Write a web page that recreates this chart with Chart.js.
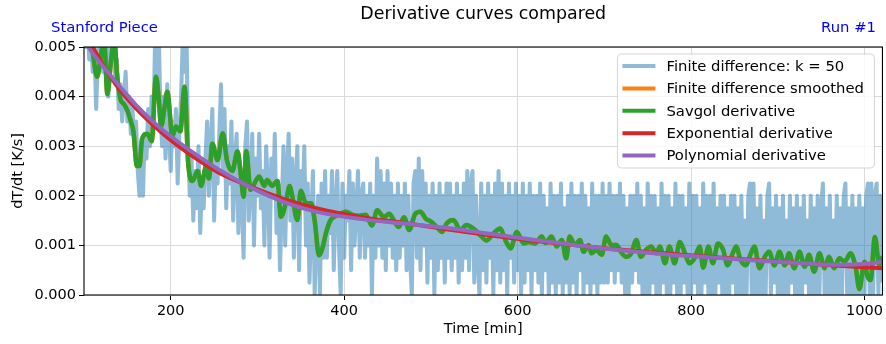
<!DOCTYPE html>
<html>
<head>
<meta charset="utf-8">
<title>Derivative curves compared</title>
<script src="https://cdn.jsdelivr.net/npm/chart.js@4.4.1/dist/chart.umd.min.js"></script>
<style>
  html, body { margin: 0; padding: 0; background: #fff; }
  canvas { display: block; }
</style>
</head>
<body>
<canvas id="derivChart" width="886" height="344"></canvas>
<script>
// Finite difference (k = 50): quantised in steps of 0.25 mK/s, one sample every 2 min from t = 100
const fdStart = 100;
const fdSpacing = 2;
const fdQuantum = 0.00025;
const fdLevels = [
  21, 20, 22, 19, 21, 18, 20, 15, 19, 21, 20, 18, 22, 19, 16, 20, 20, 21, 17, 19, 15, 17, 14, 16, 18,
  14, 16, 13, 15, 12, 14, 10, 8, 12, 8, 13, 11, 15, 12, 16, 13, 21, 17, 22, 15, 12, 16, 11, 17, 13,
  10, 14, 12, 15, 9, 13, 16, 21, 18, 22, 12, 8, 11, 6, 10, 7, 12, 5, 9, 7, 11, 14, 8, 12, 15,
  6, 11, 9, 13, 17, 10, 15, 7, 12, 9, 14, 6, 11, 13, 5, 10, 8, 3, 12, 14, 6, 9, 13, 4, 11,
  8, 13, 7, 10, 4, 12, 9, 3, 11, 8, 13, 5, 9, 2, 7, 12, 4, 10, 13, 6, 11, 3, 9, 12, 2,
  10, 7, 12, 4, 9, 1, 6, 10, 0, 5, 8, 0, 9, 3, 10, 3, 8, 5, 10, 2, 7, 10, 4, 0, 9,
  3, 8, 6, 10, 2, 9, 4, 7, 10, 3, 8, 9, 3, 8, 4, 9, 0, 8, 3, 11, 4, 10, 3, 9, 2,
  10, 4, 9, 3, 8, 2, 9, 3, 8, 4, 9, 2, 8, 3, 0, 9, 10, 3, 11, 2, 10, 4, 9, 1, 8,
  3, 9, 0, 8, 2, 9, 3, 8, 1, 9, 3, 9, 2, 8, 3, 9, 1, 8, 2, 9, 3, 10, 2, 9, 10,
  1, 8, 3, 0, 9, 2, 8, 1, 9, 3, 8, 0, 9, 2, 10, 1, 9, 2, 8, 0, 9, 3, 8, 1, 9,
  2, 8, 0, 9, 1, 8, 2, 9, 0, 8, 2, 8, 1, 9, 0, 8, 2, 7, 0, 9, 1, 8, 0, 8, 1,
  9, 0, 7, 1, 8, 0, 9, 1, 8, 0, 8, 2, 9, 0, 8, 1, 7, 0, 9, 1, 8, 0, 8, 1, 9,
  1, 8, 1, 9, 2, 8, 1, 8, 2, 9, 1, 8, 0, 7, 0, 8, 1, 8, 2, 9, 1, 8, 0, 7, 0,
  9, 0, 8, 1, 8, 0, 7, 0, 9, 1, 8, 0, 8, 0, 7, 1, 9, 0, 8, 0, 8, 1, 7, 0, 9,
  0, 8, 1, 8, 0, 7, 0, 9, 1, 8, 0, 8, 0, 9, 0, 7, 1, 8, 0, 8, 0, 7, 0, 8, 1,
  8, 0, 7, 0, 8, 0, 6, 0, 8, 9, 0, 9, 0, 7, 0, 8, 0, 6, 0, 8, 9, 0, 7, 1, 8,
  0, 7, 0, 8, 0, 6, 0, 8, 1, 7, 0, 8, 0, 7, 0, 8, 1, 6, 0, 8, 0, 7, 0, 8, 0,
  7, 9, 0, 7, 0, 8, 0, 6, 0, 8, 0, 7, 0, 8, 9, 0, 7, 0, 8, 0, 7, 0, 8, 0, 7,
  0, 8, 9, 0, 9, 0, 8, 9, 0, 8, 1
];

// Savgol derivative, [time in min, rate in mK/s]
const savgolSeries = [
  [100, 5.8], [106, 5.3], [110, 4.9], [115, 4.4], [119, 4.75], [123, 5.2], [127, 4.05], [131, 4.7],
  [135, 5.15], [138, 4.45], [142, 3.95], [146, 3.85], [150, 3.72], [154, 3.5], [157, 3.3], [161, 2.6],
  [164, 2.6], [167, 3.15], [173, 3.25], [178, 3.1], [183, 4.4], [186, 4.0], [189, 3.4], [193, 3.8],
  [196, 4.1], [202, 3.2], [206, 3.4], [211, 3.3], [216, 4.2], [220, 2.7], [225, 2.3], [231, 2.5],
  [235, 2.2], [241, 2.6], [244, 2.35], [248, 3.05], [254, 2.72], [260, 3.26], [265, 2.7], [271, 2.5],
  [277, 2.9], [281, 2.4], [284, 1.98], [287, 2.9], [292, 2.12], [298, 2.3], [302, 2.39], [308, 2.2],
  [311, 2.32], [317, 2.2], [323, 2.3], [327, 1.58], [333, 1.88], [337, 2.2], [340, 2.0], [346, 1.51],
  [350, 2.1], [356, 1.85], [362, 1.85], [366, 1.5], [371, 0.8], [375, 0.95], [379, 1.25], [384, 1.5],
  [389, 1.58], [394, 1.62], [402, 1.68], [409, 1.62], [417, 1.6], [425, 1.62], [432, 1.4], [438, 1.71],
  [446, 1.57], [452, 1.64], [457, 1.51], [463, 1.37], [469, 1.57], [475, 1.31], [482, 1.64], [488, 1.68],
  [494, 1.54], [500, 1.48], [507, 1.37], [513, 1.27], [518, 1.44], [526, 1.51], [534, 1.31], [541, 1.41],
  [551, 1.31], [559, 1.17], [564, 1.1], [572, 1.24], [580, 1.34], [586, 1.1], [592, 0.94], [599, 1.27],
  [607, 1.04], [613, 1.07], [620, 1.04], [628, 1.18], [632, 1.05], [639, 1.18], [645, 0.98], [651, 1.11],
  [656, 0.74], [660, 1.18], [666, 1.01], [672, 1.11], [676, 0.87], [682, 1.01], [685, 0.84], [691, 0.91],
  [697, 0.81], [702, 1.18], [708, 1.01], [714, 1.01], [719, 0.87], [725, 0.77], [731, 0.84], [737, 1.11],
  [742, 0.77], [748, 0.91], [754, 0.98], [760, 0.84], [764, 0.98], [770, 0.64], [775, 0.98], [781, 0.64],
  [787, 1.07], [793, 0.84], [798, 0.64], [804, 0.74], [810, 0.98], [814, 0.55], [820, 0.98], [825, 0.64],
  [831, 1.04], [837, 0.91], [842, 0.6], [848, 0.84], [852, 0.98], [857, 0.71], [863, 0.6], [869, 0.84],
  [873, 0.98], [879, 0.54], [885, 0.77], [890, 0.87], [896, 0.6], [902, 0.87], [908, 0.6], [913, 0.84],
  [919, 0.54], [925, 0.87], [931, 0.57], [936, 0.81], [942, 0.47], [948, 0.84], [954, 0.54], [959, 0.77],
  [965, 0.54], [971, 0.74], [977, 0.67], [984, 0.84], [990, 0.54], [994, 0.12], [1000, 0.67], [1003, 0.4],
  [1007, 0.3], [1012, 1.17], [1017, 0.6], [1021, 0.78]
];

// the smoothed finite difference lies underneath the Savgol curve
const fdSmoothedSeries = savgolSeries;

// Exponential fit derivative, [min, mK/s]
const expSeries = [
  [100, 5.3], [110, 5.0], [125, 4.55], [140, 4.17], [160, 3.76], [180, 3.42], [200, 3.12], [225, 2.8],
  [255, 2.47], [290, 2.2], [330, 1.94], [370, 1.74], [420, 1.57], [470, 1.45], [520, 1.32], [570, 1.2],
  [620, 1.09], [670, 1.0], [720, 0.91], [770, 0.84], [820, 0.77], [870, 0.71], [920, 0.65], [970, 0.59],
  [1021, 0.54]
];

// Polynomial fit derivative, [min, mK/s]
const polySeries = [
  [100, 5.15], [105, 5.0], [120, 4.65], [140, 4.23], [160, 3.83], [180, 3.49], [200, 3.2], [225, 2.88],
  [255, 2.53], [290, 2.19], [330, 1.88], [370, 1.67], [420, 1.53], [470, 1.44], [520, 1.35], [570, 1.23],
  [620, 1.11], [670, 1.0], [720, 0.9], [770, 0.82], [820, 0.76], [870, 0.7], [920, 0.65], [960, 0.61],
  [995, 0.62], [1021, 0.67]
];

const xTicks = [200, 400, 600, 800, 1000];
const yTicks = [0, 0.001, 0.002, 0.003, 0.004, 0.005];

const FONT = '"DejaVu Sans", sans-serif';

const fdPoints = fdLevels.map((q, i) => ({ x: fdStart + i * fdSpacing, y: q * fdQuantum }));
const toPoints = series => series.map(([t, r]) => ({ x: t, y: r / 1000 }));

function lineSet(label, data, color, width, order, smooth) {
    return {
        label: label,
        data: data,
        borderColor: color,
        borderWidth: width,
        pointRadius: 0,
        fill: false,
        order: order,
        clip: 0,
        borderJoinStyle: 'round',
        tension: 0,
        cubicInterpolationMode: smooth ? 'monotone' : 'default'
    };
}

// black frame round the plot area (drawn over the curves)
const axesFrame = {
    id: 'axesFrame',
    afterDatasetsDraw(chart) {
        const { ctx, chartArea: a } = chart;
        ctx.save();
        ctx.strokeStyle = '#000';
        ctx.lineWidth = 1.1;
        ctx.strokeRect(a.left, a.top, a.right - a.left, a.bottom - a.top);
        ctx.restore();
    }
};

// title plus the two blue corner notes
const headerText = {
    id: 'headerText',
    afterDraw(chart) {
        const { ctx, chartArea: a } = chart;
        ctx.save();
        ctx.textBaseline = 'alphabetic';
        ctx.fillStyle = '#000';
        ctx.font = `17.4px ${FONT}`;
        ctx.textAlign = 'center';
        ctx.fillText('Derivative curves compared', (a.left + a.right) / 2, 19);
        ctx.font = `14.8px ${FONT}`;
        ctx.fillStyle = '#0000ff';
        ctx.textAlign = 'left';
        ctx.fillText('Stanford Piece', 51, 32);
        ctx.textAlign = 'right';
        ctx.fillText('Run #1', 876, 32);
        ctx.restore();
    }
};

// framed legend in the upper right corner of the plot
const boxedLegend = {
    id: 'boxedLegend',
    afterDraw(chart) {
        const { ctx, chartArea: a } = chart;
        const sets = chart.data.datasets;
        const w = 257, rowH = 22.4, r = 4;
        const h = sets.length * rowH + 2;
        const x0 = a.right - 8 - w, y0 = a.top + 7;
        ctx.save();
        ctx.beginPath();
        ctx.moveTo(x0 + r, y0);
        ctx.arcTo(x0 + w, y0, x0 + w, y0 + h, r);
        ctx.arcTo(x0 + w, y0 + h, x0, y0 + h, r);
        ctx.arcTo(x0, y0 + h, x0, y0, r);
        ctx.arcTo(x0, y0, x0 + w, y0, r);
        ctx.closePath();
        ctx.fillStyle = 'rgba(255,255,255,0.8)';
        ctx.fill();
        ctx.strokeStyle = 'rgba(204,204,204,0.8)';
        ctx.lineWidth = 1;
        ctx.stroke();
        ctx.font = `14.8px ${FONT}`;
        ctx.textBaseline = 'middle';
        ctx.textAlign = 'left';
        sets.forEach((ds, i) => {
            const y = y0 + 12 + i * rowH;
            ctx.strokeStyle = ds.borderColor;
            ctx.lineWidth = Math.min(ds.borderWidth, 4);
            ctx.beginPath();
            ctx.moveTo(x0 + 5, y);
            ctx.lineTo(x0 + 38, y);
            ctx.stroke();
            ctx.fillStyle = '#000';
            ctx.fillText(ds.label, x0 + 49, y + 1);
        });
        ctx.restore();
    }
};

const tickFont = { family: FONT, size: 14.5 };

new Chart(document.getElementById('derivChart'), {
    type: 'line',
    data: {
        datasets: [
            lineSet('Finite difference: k = 50', fdPoints, 'rgba(31,119,180,0.5)', 4, 5, false),
            lineSet('Finite difference smoothed', toPoints(fdSmoothedSeries), '#ff7f0e', 4.5, 4, true),
            lineSet('Savgol derivative', toPoints(savgolSeries), '#2ca02c', 4.5, 3, true),
            lineSet('Exponential derivative', toPoints(expSeries), '#d62728', 4, 2, true),
            lineSet('Polynomial derivative', toPoints(polySeries), '#9467bd', 4, 1, true)
        ]
    },
    options: {
        responsive: false,
        animation: false,
        devicePixelRatio: 1,
        events: [],
        layout: { padding: { top: 47, right: 2, bottom: 0, left: 0 } },
        plugins: {
            legend: { display: false },
            tooltip: { enabled: false },
            title: { display: false }
        },
        scales: {
            x: {
                type: 'linear',
                min: 100,
                max: 1020.7,
                afterBuildTicks: s => { s.ticks = xTicks.map(v => ({ value: v })); },
                afterFit: s => { s.height = 49; },
                border: { display: false },
                grid: { color: '#dadada', lineWidth: 1, tickColor: '#000', tickLength: 5, drawTicks: true },
                ticks: {
                    color: '#000', font: tickFont, padding: 3, maxRotation: 0, autoSkip: false,
                    callback: v => String(v)
                },
                title: {
                    display: true, text: 'Time [min]', color: '#000', font: tickFont,
                    padding: { top: 0, bottom: 6 }
                }
            },
            y: {
                min: 0,
                max: 0.005,
                afterBuildTicks: s => { s.ticks = yTicks.map(v => ({ value: v })); },
                afterFit: s => { s.width = 84; },
                border: { display: false },
                grid: { color: '#dadada', lineWidth: 1, tickColor: '#000', tickLength: 5, drawTicks: true },
                ticks: {
                    color: '#000', font: tickFont, padding: 3, autoSkip: false,
                    callback: v => Number(v).toFixed(3)
                },
                title: {
                    display: true, text: 'dT/dt [K/s]', color: '#000', font: tickFont,
                    padding: { top: 10, bottom: 0 }
                }
            }
        }
    },
    plugins: [axesFrame, headerText, boxedLegend]
});
</script>
</body>
</html>
